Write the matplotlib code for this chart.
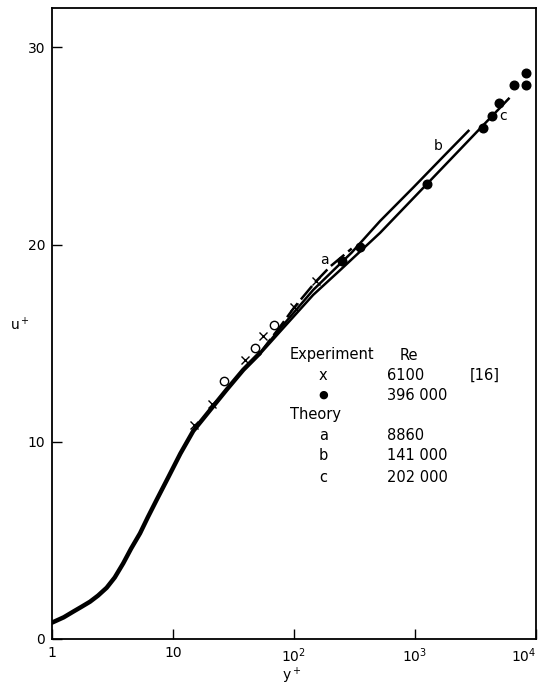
import numpy as np
import matplotlib
matplotlib.use('Agg')
import matplotlib.pyplot as plt

plt.rcParams['font.family'] = ['DejaVu Sans']
plt.rcParams['mathtext.default'] = 'regular'

# common wall region of the theory curves
wall_y = [1.0, 1.25, 1.5, 1.75, 2.06, 2.4, 2.83, 3.3, 3.88, 4.5, 5.34, 6.2, 7.33,
          9.14, 11.5, 14.7, 20.2, 27.8, 38.1, 52.3]
wall_u = [0.83, 1.1, 1.39, 1.63, 1.89, 2.2, 2.6, 3.12, 3.84, 4.58, 5.36, 6.18, 7.06,
          8.2, 9.4, 10.55, 11.6, 12.65, 13.65, 14.5]

# theory, Re = 8860 / 141 000 / 202 000
theory_a_y = [52.3, 77, 100, 150, 200, 300]
theory_a_u = [14.5, 15.85, 16.8, 18.1, 18.9, 19.8]
theory_b_y = [52.3, 77, 144, 300, 515, 969, 1833, 2766]
theory_b_u = [14.5, 15.75, 17.7, 19.6, 21.2, 22.9, 24.65, 25.77]
theory_c_y = [52.3, 77, 144, 240, 515, 1249, 2351, 3669, 4934, 5945]
theory_c_u = [14.45, 15.6, 17.45, 18.7, 20.6, 23.06, 24.82, 26.06, 26.88, 27.4]

# experiment Re = 6100 [16]
exp_x_y = [15.0, 20.9, 39.3, 55.0, 100, 151]
exp_x_u = [10.83, 11.93, 14.16, 15.35, 16.84, 18.17]

# experiment Re = 396 000
exp_dot_y = [251, 351, 1249, 3669, 4308, 4934, 6630, 8200, 8200]
exp_dot_u = [19.15, 19.9, 23.07, 25.9, 26.5, 27.2, 28.1, 28.1, 28.7]
exp_open_y = [26.6, 47.5, 68.8]
exp_open_u = [13.06, 14.75, 15.9]

W, H = 544, 688
fig = plt.figure(figsize=(W / 100, H / 100), dpi=100)
ax = fig.add_axes([52 / W, 1 - 639 / H, 484 / W, 631 / H])

ax.plot(wall_y, wall_u, color='black', lw=3.2, solid_capstyle='round', solid_joinstyle='round')
ax.plot(theory_a_y, theory_a_u, color='black', lw=1.8, dashes=(7, 2))
ax.plot(theory_b_y, theory_b_u, color='black', lw=1.8)
ax.plot(theory_c_y, theory_c_u, color='black', lw=1.8)

ax.plot(exp_x_y, exp_x_u, ls='none', marker='x', ms=6, mew=1.0, color='black')
ax.plot(exp_dot_y, exp_dot_u, ls='none', marker='o', ms=6.2, color='black')
ax.plot(exp_open_y, exp_open_u, ls='none', marker='o', ms=6, mfc='white', mec='black', mew=1.0)

ax.text(180, 19.2, 'a', fontsize=10, ha='center', va='center')
ax.text(1540, 25.0, 'b', fontsize=10, ha='center', va='center')
ax.text(5330, 26.5, 'c', fontsize=10, ha='center', va='center')

ax.set_xscale('log')
ax.set_xlim(1, 1e4)
ax.set_ylim(0, 32)
ax.set_xticks([1, 10, 100, 1000, 10000])
ax.set_xticklabels(['1', '10', '$10^2$', '$10^3$', '$10^4$'])
ax.get_xticklabels()[-1].set_horizontalalignment('right')
ax.set_yticks([0, 10, 20, 30])
ax.minorticks_off()
ax.tick_params(direction='in', length=7, width=1.0, labelsize=10, pad=5)
ax.xaxis.get_majorticklabels()[-1].set_x(1e4)
for s in ax.spines.values():
    s.set_linewidth(1.3)

fig.text(20 / W, 1 - 325 / H, 'u$^+$', fontsize=10, ha='center', va='center')
fig.text(292 / W, 1 - 676 / H, 'y$^+$', fontsize=10, ha='center', va='center')

# key
def put(x, y, s, size=10.5):
    fig.text(x / W, 1 - y / H, s, fontsize=size, ha='left', va='center')

put(290, 355, 'Experiment')
put(400, 355, 'Re')
put(319, 375, 'x')
put(387, 375, '6100')
put(470, 375, '[16]')
put(318, 395, '\u25cf', size=8)
put(387, 395, '396 000')
put(290, 415, 'Theory')
put(319, 435, 'a')
put(387, 435, '8860')
put(319, 456, 'b')
put(387, 456, '141 000')
put(319, 477, 'c')
put(387, 477, '202 000')

fig.savefig('out.png', dpi=100)
